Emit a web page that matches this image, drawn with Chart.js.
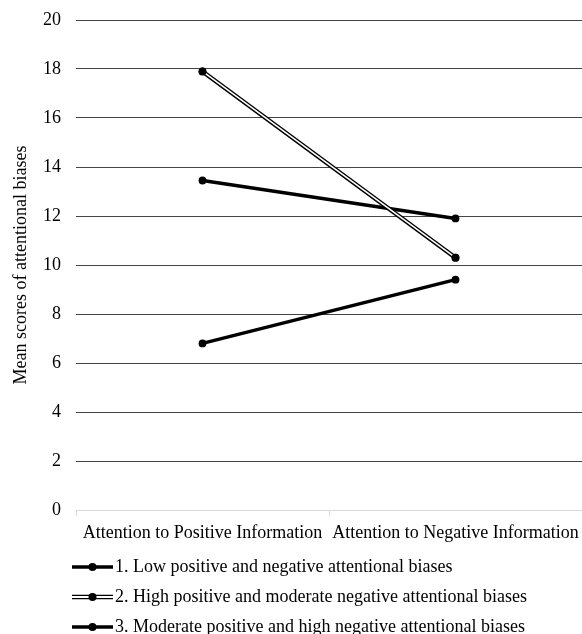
<!DOCTYPE html>
<html>
<head>
<meta charset="utf-8">
<script src="https://cdn.jsdelivr.net/npm/chart.js@4.4.1/dist/chart.umd.min.js"></script>
<style>
  html, body { margin: 0; padding: 0; background: #fff; }
  #wrap { width: 582px; height: 634px; position: relative; }
</style>
</head>
<body>
<div id="wrap"><canvas id="c"></canvas></div>
<script>
// ---- data ----
const categories = ['Attention to Positive Information', 'Attention to Negative Information'];
const seriesNames = [
  '1. Low positive and negative attentional biases',
  '2. High positive and moderate negative attentional biases',
  '3. Moderate positive and high negative attentional biases'
];
const lowBoth = [6.8, 9.4];
const highPosModNeg = [17.9, 10.3];
const modPosHighNeg = [13.45, 11.9];
const yTicks = [0, 2, 4, 6, 8, 10, 12, 14, 16, 18, 20];
const yTitle = 'Mean scores of attentional biases';

const FONT = "'Liberation Serif', 'Times New Roman', serif";
const FS = 18;

function makeMarker(isDouble) {
  const c = document.createElement('canvas');
  c.width = 41; c.height = 10;
  const g = c.getContext('2d');
  g.lineCap = 'butt';
  g.strokeStyle = '#000';
  if (isDouble) {
    g.lineWidth = 4.4;
    g.beginPath(); g.moveTo(0, 5); g.lineTo(41, 5); g.stroke();
    g.strokeStyle = '#fff';
    g.lineWidth = 1.8;
    g.beginPath(); g.moveTo(0, 5); g.lineTo(41, 5); g.stroke();
  } else {
    g.lineWidth = 3.6;
    g.beginPath(); g.moveTo(0, 5); g.lineTo(41, 5); g.stroke();
  }
  g.fillStyle = '#000';
  g.beginPath(); g.arc(20.5, 5, 4, 0, Math.PI * 2); g.fill();
  return c;
}
const markers = [makeMarker(false), makeMarker(true), makeMarker(false)];

const legendShift = {
  id: 'legendShift',
  afterLayout(chart) {
    const lg = chart.legend;
    if (!lg) return;
    const dx = 67 - lg.left;
    lg.left += dx; lg.right += dx;
    const dy = 546 - lg.top;
    lg.top += dy; lg.bottom += dy;
  }
};

const pointCommon = {
  pointRadius: 3.9,
  pointHoverRadius: 3.9,
  pointBackgroundColor: '#000',
  pointBorderColor: '#000',
  pointBorderWidth: 0,
  fill: false,
  tension: 0
};

new Chart(document.getElementById('c'), {
  type: 'line',
  data: {
    labels: categories,
    datasets: [
      Object.assign({ label: seriesNames[0], data: lowBoth, borderColor: '#000', borderWidth: 3.4, order: 3 }, pointCommon),
      Object.assign({ label: seriesNames[1], data: highPosModNeg, borderColor: '#000', borderWidth: 4.4, order: 1 }, pointCommon),
      Object.assign({ label: seriesNames[2], data: modPosHighNeg, borderColor: '#000', borderWidth: 3.4, order: 2 }, pointCommon),
      Object.assign({ label: 'overlay', data: highPosModNeg, borderColor: '#fff', borderWidth: 1.6, order: 0 }, pointCommon)
    ]
  },
  options: {
    responsive: true,
    maintainAspectRatio: false,
    animation: false,
    events: [],
    layout: { autoPadding: false, padding: { left: 10, right: 0, top: 0, bottom: -9 } },
    plugins: {
      tooltip: { enabled: false },
      legend: {
        display: true,
        position: 'bottom',
        align: 'start',
        labels: {
          usePointStyle: true,
          pointStyleWidth: 27,
          padding: 12,
          color: '#000',
          font: { family: FONT, size: FS },
          generateLabels(chart) {
            const items = Chart.defaults.plugins.legend.labels.generateLabels(chart);
            return items
              .filter(it => it.datasetIndex < 3)
              .sort((a, b) => a.datasetIndex - b.datasetIndex)
              .map(it => Object.assign(it, { pointStyle: markers[it.datasetIndex], fontColor: '#000' }));
          }
        }
      }
    },
    scales: {
      x: {
        type: 'category',
        offset: true,
        afterFit(scale) { scale.height = 33; scale.paddingLeft = 0; scale.paddingRight = 0; },
        grid: { display: true, drawOnChartArea: false, drawTicks: true, tickLength: 6, color: '#d9d9d9', offset: true },
        border: { display: true, color: '#d9d9d9', width: 1 },
        ticks: { color: '#000', padding: 6, maxRotation: 0, autoSkip: false, font: { family: FONT, size: FS } }
      },
      y: {
        min: 0,
        max: 20,
        afterBuildTicks(scale) { scale.ticks = yTicks.map(v => ({ value: v })); },
        afterFit(scale) { scale.width = 66; scale.paddingTop = 20; scale.paddingBottom = 0; },
        grid: {
          drawTicks: false,
          color: ctx => (ctx.tick && ctx.tick.value === 0) ? '#d9d9d9' : '#444',
          lineWidth: 1
        },
        border: { display: false },
        ticks: { color: '#000', padding: 15, font: { family: FONT, size: FS } },
        title: {
          display: true,
          text: yTitle,
          color: '#000',
          font: { family: FONT, size: FS },
          padding: { top: 0, bottom: 4 }
        }
      }
    }
  },
  plugins: [legendShift]
});
</script>
</body>
</html>
